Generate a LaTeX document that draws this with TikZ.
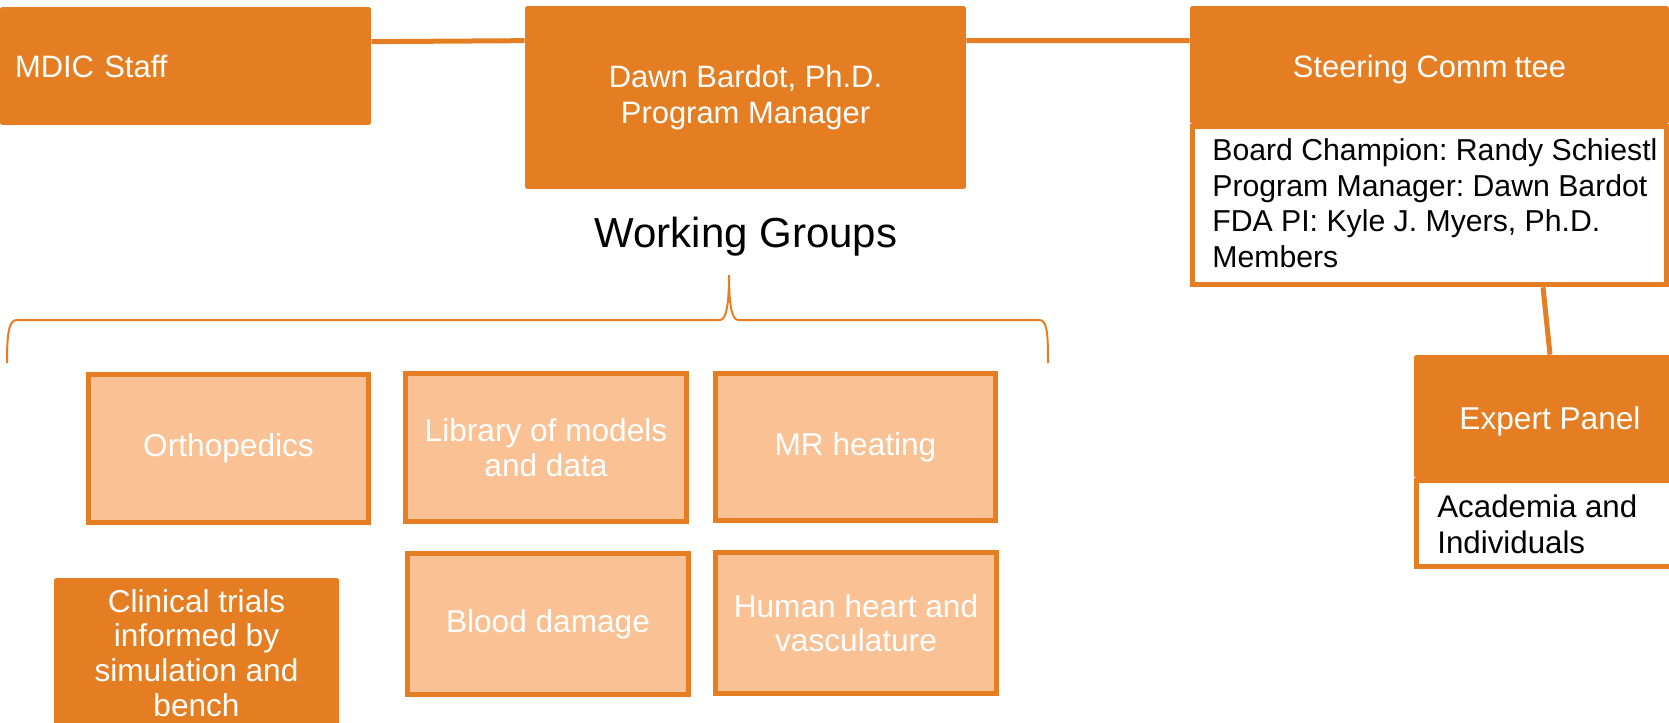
\documentclass[tikz,border=0pt]{standalone}
\usepackage{fontspec}
\setmainfont{Liberation Sans}
\usetikzlibrary{positioning,calc}

\definecolor{mdicorange}{HTML}{E57E22}
\definecolor{wglight}{HTML}{F9C194}

\begin{document}
\frenchspacing
\begin{tikzpicture}[
    x=0.02cm, y=-0.02cm,
    box/.style={rectangle, fill=mdicorange, text=white, align=center, inner sep=0pt,
        rounded corners=1pt, font=\fontsize{17.6}{20}\selectfont},
    header/.style={box, text height=0.5cm, text depth=0pt},
    group/.style={rectangle, draw=mdicorange, line width=0.1cm, fill=wglight, text=white,
        align=center, inner sep=0pt, minimum width=5.62cm, font=\fontsize{18}{19.6}\selectfont},
    panel/.style={rectangle, draw=mdicorange, line width=0.1cm, fill=white, inner sep=0pt},
    paneltext/.style={align=left, inner sep=0pt, text=black},
    link/.style={draw=mdicorange, line width=0.1cm},
    brace/.style={draw=mdicorange, line width=0.04cm}
]

\useasboundingbox (0,0) rectangle (1669,723);

% ================= top row =================

\node[box, minimum width=7.42cm, minimum height=2.36cm, text width=6.82cm, align=left] (mdic) at (185.5,66) {MDIC Staff};
\node[box, minimum width=8.82cm, minimum height=3.66cm] (dawn) at (745.5,97.5) {Dawn Bardot, Ph.D.\\Program Manager};

\node[header, minimum width=9.58cm, minimum height=2.36cm] (steer) at (1429.5,65) {Steering Comm\phantom{i}ttee};
\node[panel, minimum width=9.48cm, minimum height=3.16cm, below=0pt of steer] (steerbody) {};
\node[paneltext, anchor=north west, font=\fontsize{17.2}{20.2}\selectfont] (steertxt) at (1212,138.3)
    {Board Champion: Randy Schiestl\\Program Manager: Dawn Bardot\\FDA PI: Kyle J. Myers, Ph.D.\\Members};

\draw[link] ([yshift=-0.7cm]mdic.north east) -- ([yshift=-0.7cm]dawn.north west);
\draw[link] ([yshift=-0.7cm]dawn.north east) -- ([yshift=-0.7cm]steer.north west);

% ================= expert panel =================

\node[header, minimum width=5.44cm, minimum height=2.46cm, font=\fontsize{18}{20}\selectfont] (expert) at (1550,416.5) {Expert Panel};
\node[panel, minimum width=5.34cm, minimum height=1.72cm, below=0pt of expert] (expertbody) {};
\node[paneltext, anchor=north west, font=\fontsize{17.8}{21}\selectfont] (experttxt) at (1437,494)
    {Academia and\\Individuals};

\draw[link] ($(steerbody.south -| expert.north)+(-7,0)$) -- (expert.north);

% ================= working groups =================

\node[anchor=base, inner sep=0pt, font=\fontsize{23.9}{28}\selectfont] (wglabel) at (746,247) {Working Groups};

\draw[brace] (7,363) .. controls (7,332) and (9,320) .. (17,320) -- (720,320)
    .. controls (727,320) and (729,300) .. (729,275)
    .. controls (729,300) and (731,320) .. (738,320) -- (1039,320)
    .. controls (1047,320) and (1048,332) .. (1048,363);

\node[group, minimum height=2.96cm] (ortho)   at (228.5,448.5) {Orthopedics};
\node[group, minimum height=2.96cm] (library) at (546,447.5)   {Library of models\\and data};
\node[group, minimum height=2.96cm] (mrheat)  at (855.5,447)   {MR heating};
\node[group, minimum height=2.84cm] (blood)   at (548,624)     {Blood damage};
\node[group, minimum height=2.84cm] (heart)   at (856,623)     {Human heart and\\vasculature};

\node[box, minimum width=5.7cm, minimum height=3.0cm, font=\fontsize{18}{19.8}\selectfont] (clinical) at (196.5,653)
    {Clinical trials\\informed by\\simulation and\\bench};

\end{tikzpicture}
\end{document}
